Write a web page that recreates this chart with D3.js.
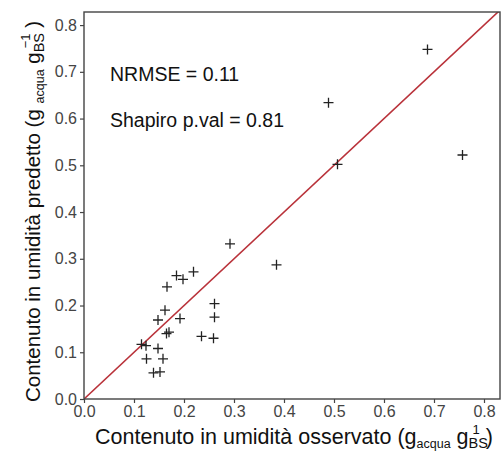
<!DOCTYPE html>
<html lang="en">
<head>
    <meta charset="utf-8">
    <title>Umidità osservata vs predetta</title>
    <script src="https://d3js.org/d3.v7.min.js"></script>
    <style>
        body { margin: 0; background: #fff; }
        text { font-family: "Liberation Sans", Arial, sans-serif; }
    </style>
</head>
<body>
<svg id="g1"></svg>
<script>
    // observed vs predicted moisture content (g acqua / g BS)
    const observed  = [0.687, 0.489, 0.757, 0.507, 0.292, 0.385, 0.219, 0.185, 0.198, 0.166,
                       0.162, 0.148, 0.192, 0.261, 0.261, 0.165, 0.170, 0.235, 0.259, 0.115,
                       0.124, 0.148, 0.125, 0.158, 0.139, 0.152];
    const predicted = [0.748, 0.634, 0.522, 0.502, 0.332, 0.287, 0.272, 0.264, 0.256, 0.240,
                       0.190, 0.169, 0.172, 0.204, 0.175, 0.140, 0.143, 0.134, 0.130, 0.117,
                       0.114, 0.108, 0.086, 0.086, 0.056, 0.058];
    const ticks = [0, 0.1, 0.2, 0.3, 0.4, 0.5, 0.6, 0.7, 0.8];
    const stats = ["NRMSE = 0.11", "Shapiro p.val = 0.81"];

    let margin = {top: 12, right: 2, bottom: 58, left: 84},
        width = 502,
        height = 457,
        chartWidth = width - margin.left - margin.right,
        chartHeight = height - margin.top - margin.bottom;

    let svg = d3.select("#g1")
        .attr("width", width)
        .attr("height", height);

    let x = d3.scaleLinear().domain([0, 0.832]).range([0, chartWidth]);
    let y = d3.scaleLinear().domain([0, 0.828]).range([chartHeight, 0]);

    let chartArea = svg.append("g")
        .attr("transform", `translate(${margin.left},${margin.top})`);

    svg.append("clipPath").attr("id", "clip")
        .append("rect").attr("x", 0).attr("y", 0)
        .attr("width", chartWidth).attr("height", chartHeight);

    // axes
    let xAxis = chartArea.append("g")
        .attr("transform", `translate(0,${chartHeight})`)
        .call(d3.axisBottom(x).tickValues(ticks).tickSize(4).tickPadding(3)
            .tickFormat(d3.format(".1f")));
    let yAxis = chartArea.append("g")
        .call(d3.axisLeft(y).tickValues(ticks).tickSize(4).tickPadding(3)
            .tickFormat(d3.format(".1f")));
    [xAxis, yAxis].forEach(a => {
        a.select(".domain").remove();
        a.selectAll(".tick line").attr("stroke", "#444").attr("stroke-width", 1.2);
        a.selectAll(".tick text").attr("fill", "#444")
            .style("font-size", "16px")
            .style("font-family", '"Liberation Sans", Arial, sans-serif');
    });

    // 1:1 line
    chartArea.append("line")
        .attr("clip-path", "url(#clip)")
        .attr("x1", x(0)).attr("y1", y(0))
        .attr("x2", x(0.9)).attr("y2", y(0.9))
        .attr("stroke", "#b9323a")
        .attr("stroke-width", 1.6);

    // points (pch 3)
    chartArea.append("g")
        .selectAll("path")
        .data(observed.map((d, i) => ({obs: d, pred: predicted[i]})))
        .enter().append("path")
            .attr("transform", d => `translate(${x(d.obs)},${y(d.pred)})`)
            .attr("d", "M-5,0H5M0,-5V5")
            .attr("stroke", "#222")
            .attr("stroke-width", 1.3)
            .attr("fill", "none");

    // panel border
    chartArea.append("rect")
        .attr("width", chartWidth).attr("height", chartHeight)
        .attr("fill", "none")
        .attr("stroke", "#444")
        .attr("stroke-width", 1.4);

    // annotations
    chartArea.selectAll(".stat")
        .data(stats)
        .enter().append("text")
            .attr("class", "stat")
            .attr("x", 26)
            .attr("y", (d, i) => 69 + i * 46)
            .style("font-size", "19.5px")
            .attr("fill", "#111")
            .text(d => d);

    // axis title with sub/superscripts
    function richTitle(g, parts, size) {
        let t = g.append("text").style("font-size", size + "px").attr("fill", "#111");
        let cur = 0; // running x, used to stack superscript above subscript
        let lastSubStart = 0;
        parts.forEach(p => {
            let ts = t.append("tspan").text(p.s);
            if (p.kind === "sub") {
                ts.style("font-size", p.small ? "12.5px" : "14.5px").attr("dy", 4);
            } else if (p.kind === "sup") {
                ts.style("font-size", "13px").attr("dy", -14);
            } else if (p.kind === "back") {
                ts.attr("dy", 10);
            } else if (p.kind === "base") {
                ts.attr("dy", -4);
            }
            if (p.stack) {
                // place superscript above preceding subscript
                ts.attr("dx", -(cur - lastSubStart) + 4);
            }
            let w = ts.node().getComputedTextLength();
            if (p.kind === "sub") lastSubStart = cur;
            cur += w + (p.stack ? -(cur - lastSubStart) + 4 : 0);
        });
        return t;
    }

    let xTitle = richTitle(svg.append("g"), [
        {s: "Contenuto in umidità osservato (g"},
        {s: "acqua", kind: "sub", small: true},
        {s: " g", kind: "base"},
        {s: "BS", kind: "sub"},
        {s: "1", kind: "sup", stack: true},
        {s: " )", kind: "back"}
    ], 21.5);
    let xw = xTitle.node().getBBox().width;
    xTitle.attr("transform", `translate(${margin.left + chartWidth / 2 - xw / 2 + 2},444)`);

    let yTitle = richTitle(svg.append("g"), [
        {s: "Contenuto in umidità predetto (g "},
        {s: "acqua", kind: "sub", small: true},
        {s: " g", kind: "base"},
        {s: "BS", kind: "sub"},
        {s: "−1", kind: "sup", stack: true},
        {s: " )", kind: "back"}
    ], 20.5);
    let yw = yTitle.node().getBBox().width;
    yTitle.attr("transform", `translate(40,${margin.top + chartHeight / 2 + yw / 2 + 6}) rotate(-90)`);
</script>
</body>
</html>
